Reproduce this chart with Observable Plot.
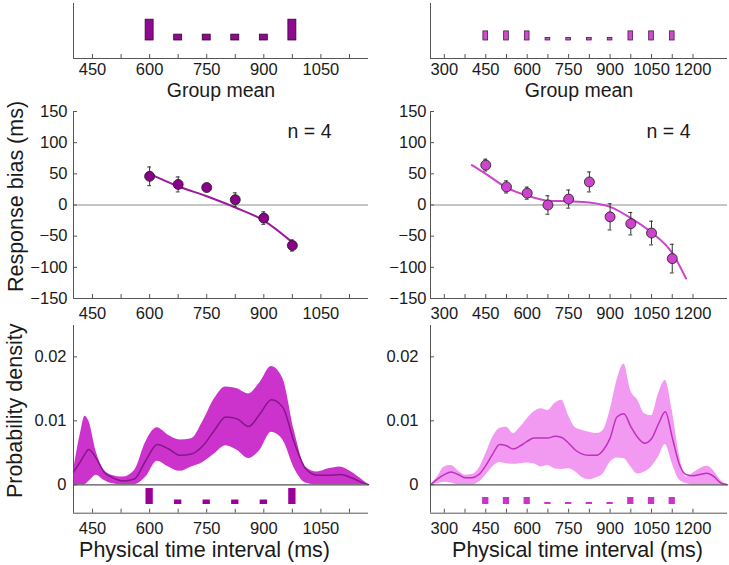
<!DOCTYPE html>
<html><head><meta charset="utf-8">
<script src="https://cdn.jsdelivr.net/npm/d3@7"></script>
<script src="https://cdn.jsdelivr.net/npm/@observablehq/plot@0.6"></script>
<style>body{margin:0;background:#fff}#chart{position:relative;width:729px;height:565px;background:#fff}</style>
</head><body><div id="chart"></div>
<script>
// ---------- data ----------
const leftIntervals = [600, 675, 750, 825, 900, 975];
const leftProb = [0.32, 0.09, 0.09, 0.09, 0.09, 0.32];
const rightIntervals = [450, 525, 600, 675, 750, 825, 900, 975, 1050, 1125];
const rightProb = [0.14, 0.14, 0.14, 0.04, 0.04, 0.04, 0.04, 0.14, 0.14, 0.14];

const leftBias = [46, 33, 28, 8.5, -21, -65];
const leftErr = [15, 12, 2, 11, 10, 9];
const leftFitX = [600, 675, 750, 825, 900, 975];
const leftFitY = [50, 30, 14, -4, -25, -60];

const rightBias = [64, 29, 19, 0, 9.5, 37, -19, -30, -45, -86];
const rightErr = [9.5, 9.7, 9.7, 14.8, 14.5, 16, 21, 18, 19, 23];
const rightFitX = [400, 450, 525, 600, 675, 750, 825, 900, 975, 1050, 1125, 1175];
const rightFitY = [64, 50, 28, 15, 7, 6, 4, -3, -21, -44, -77, -118];

const leftDensX    = [400, 420, 430, 440, 460, 480, 500, 530, 560, 590, 620, 650, 680, 710, 740, 770, 800, 830, 860, 890, 920, 950, 980, 1010, 1040, 1070, 1100, 1130, 1160, 1175];
const leftDensMean = [0.0020, 0.0038, 0.0048, 0.0055, 0.0041, 0.0020, 0.0012, 0.0006, 0.0009, 0.0038, 0.0063, 0.0056, 0.0046, 0.0048, 0.0061, 0.0085, 0.0106, 0.0103, 0.0091, 0.0111, 0.0133, 0.0121, 0.0066, 0.0025, 0.0015, 0.0015, 0.0016, 0.0011, 0.0003, 0];
const leftDensLo   = [0, 0, 0, 0.0005, 0.0015, 0.0007, 0.0002, 0, 0, 0.0012, 0.0037, 0.0028, 0.0021, 0.0028, 0.0035, 0.0048, 0.0061, 0.0054, 0.0041, 0.0054, 0.0082, 0.0070, 0.0026, 0.0003, 0, 0, 0, 0, 0, 0];
const leftDensHi   = [0.0022, 0.0085, 0.0107, 0.0100, 0.0051, 0.0023, 0.0015, 0.0012, 0.0022, 0.0067, 0.0089, 0.0077, 0.0070, 0.0072, 0.0099, 0.0134, 0.0153, 0.0150, 0.0142, 0.0160, 0.0185, 0.0166, 0.0085, 0.0028, 0.0020, 0.0025, 0.0028, 0.0020, 0.0007, 0];

const rightDensX    = [250, 275, 300, 325, 350, 375, 400, 425, 450, 475, 500, 525, 550, 575, 600, 625, 650, 675, 700, 725, 750, 775, 800, 825, 850, 875, 900, 925, 950, 975, 1000, 1025, 1050, 1075, 1100, 1125, 1150, 1175, 1200, 1225, 1250, 1275, 1300, 1325];
const rightDensMean = [0, 0.0009, 0.0016, 0.0020, 0.0016, 0.0011, 0.0011, 0.0016, 0.0030, 0.0048, 0.0063, 0.0061, 0.0056, 0.0061, 0.0068, 0.0073, 0.0073, 0.0073, 0.0076, 0.0074, 0.0065, 0.0054, 0.0048, 0.0046, 0.0046, 0.0054, 0.0073, 0.0106, 0.0111, 0.0091, 0.0074, 0.0065, 0.0072, 0.0095, 0.0114, 0.0074, 0.0033, 0.0016, 0.0014, 0.0016, 0.0018, 0.0013, 0.0003, 0];
const rightDensLo   = [0, 0.0002, 0.0004, 0.0003, 0, 0, 0, 0.0004, 0.0015, 0.0028, 0.0035, 0.0033, 0.0032, 0.0033, 0.0034, 0.0033, 0.0028, 0.0030, 0.0025, 0.0024, 0.0025, 0.0020, 0.0011, 0.0008, 0.0011, 0.0017, 0.0035, 0.0042, 0.0041, 0.0028, 0.0017, 0.0020, 0.0028, 0.0043, 0.0063, 0.0033, 0.0008, 0.0002, 0, 0, 0, 0, 0, 0];
const rightDensHi   = [0, 0.0012, 0.0028, 0.0030, 0.0022, 0.0015, 0.0016, 0.0025, 0.0048, 0.0074, 0.0088, 0.0090, 0.0080, 0.0090, 0.0103, 0.0114, 0.0119, 0.0116, 0.0127, 0.0132, 0.0108, 0.0089, 0.0085, 0.0082, 0.0080, 0.0085, 0.0116, 0.0163, 0.0189, 0.0147, 0.0132, 0.0111, 0.0108, 0.0142, 0.0163, 0.0116, 0.0048, 0.0012, 0.0018, 0.0025, 0.0029, 0.0022, 0.0007, 0];

const leftXTicks = [450, 525, 600, 675, 750, 825, 900, 975, 1050, 1125];
const leftXLabels = [450, 600, 750, 900, 1050];
const rightXTicks = [300, 375, 450, 525, 600, 675, 750, 825, 900, 975, 1050, 1125, 1200];
const rightXLabels = [300, 450, 600, 750, 900, 1050, 1200];
const biasTicks = [-150, -100, -50, 0, 50, 100, 150];
const densTicks = [0, 0.01, 0.02];

const nLabel = "n = 4";
const topTitle = "Group mean";
const biasTitle = "Response bias (ms)";
const densTitle = "Probability density";
const xTitle = "Physical time interval (ms)";

// ---------- layout ----------
const root = document.getElementById("chart");
const FONT = "'Liberation Sans', Arial, Helvetica, sans-serif";
const AX = "#555";
const TXT = "#1a1a1a";
const st = () => ({fontFamily: FONT, fontSize: "16.5px", color: TXT, background: "transparent", overflow: "visible"});
function put(svg, left, top) {
  svg.style.position = "absolute"; svg.style.left = left + "px"; svg.style.top = top + "px";
  root.appendChild(svg);
}
const cols = [
  {left: 0, width: 372, ml: 73, mr: 4, domain: [400, 1175], ticks: leftXTicks, labels: leftXLabels,
   xs: leftIntervals, ps: leftProb, bias: leftBias, err: leftErr, fitX: leftFitX, fitY: leftFitY,
   dX: leftDensX, dM: leftDensMean, dL: leftDensLo, dH: leftDensHi,
   barFill: "#8e0a8e", barStroke: "#3a003a", topHalf: 10.5, botHalf: 9.6, botFill: "#990099",
   dotFill: "#8b008b", fitStroke: "#9a1a9a", band: "#cc33cc", meanStroke: "#86168a",
   capHalf: 5, yPad: 6, dPad: 7, xTitleDx: -16.5, showY: true},
  {left: 372, width: 357, ml: 58, mr: 2, domain: [250, 1325], ticks: rightXTicks, labels: rightXLabels,
   xs: rightIntervals, ps: rightProb, bias: rightBias, err: rightErr, fitX: rightFitX, fitY: rightFitY,
   dX: rightDensX, dM: rightDensMean, dL: rightDensLo, dH: rightDensHi,
   barFill: "#cc4ccc", barStroke: "#4a1a4a", topHalf: 8.5, botHalf: 11.4, botFill: "#cc33cc",
   dotFill: "#cc44cc", fitStroke: "#cc44cc", band: "#f29af2", meanStroke: "#c030c0",
   capHalf: 7, yPad: 4, dPad: 12, xTitleDx: -1.5, showY: false}
];

const topY = [-0.277, 0.569];
const biasY = [-150, 150];
const densY = [-0.00444, 0.0249];
const densBarBase = -0.00308;
const densBarScale = 0.0078;

for (const c of cols) {
  const fw = c.width - c.ml - c.mr;
  const xFmt = d => String(d);
  const bars = c.xs.map((x, i) => ({x, p: c.ps[i]}));

  // top row: stimulus distribution
  {
    const mT = 3, mB = 42, h = 100;
    put(Plot.plot({
      width: c.width, height: h, marginLeft: c.ml, marginRight: c.mr, marginTop: mT, marginBottom: mB,
      style: st(), x: {domain: c.domain}, y: {domain: topY, axis: null},
      marks: [
        Plot.rect(bars, {x1: d => d.x - c.topHalf, x2: d => d.x + c.topHalf, y1: 0, y2: "p", fill: c.barFill, stroke: c.barStroke, strokeWidth: 0.8}),
        Plot.ruleX([c.domain[0]], {stroke: AX}),
        Plot.ruleY([topY[0]], {stroke: AX}),
        Plot.ruleX(c.ticks, {x: d => d, insetTop: (h - mT - mB) - 4, stroke: AX}),
        Plot.axisX(c.labels, {tickSize: 0, tickPadding: 5, tickFormat: xFmt, label: null, fill: TXT}),
        Plot.text([topTitle], {text: d => d, frameAnchor: "bottom", lineAnchor: "middle", dy: 32, fontSize: 19.5, fill: TXT})
      ]
    }), c.left, 0);
  }

  // middle row: response bias
  {
    const mT = 11, mB = 24, h = 222;
    const pts = c.xs.map((x, i) => ({x, y: c.bias[i], lo: c.bias[i] - c.err[i], hi: c.bias[i] + c.err[i]}));
    const fit = c.fitX.map((x, i) => ({x, y: c.fitY[i]}));
    const marks = [
      Plot.ruleY([0], {stroke: "#b3b3b3", strokeWidth: 1.3}),
      Plot.line(fit, {x: "x", y: "y", stroke: c.fitStroke, strokeWidth: 2, curve: "monotone-x"}),
      Plot.ruleX(pts, {x: "x", y1: "lo", y2: "hi", stroke: "#333", strokeWidth: 1}),
      Plot.ruleY(pts, {y: "lo", x1: d => d.x - c.capHalf, x2: d => d.x + c.capHalf, stroke: "#333", strokeWidth: 1}),
      Plot.ruleY(pts, {y: "hi", x1: d => d.x - c.capHalf, x2: d => d.x + c.capHalf, stroke: "#333", strokeWidth: 1}),
      Plot.dot(pts, {x: "x", y: "y", r: 5, fill: c.dotFill, stroke: "#1a1a1a", strokeWidth: 0.8}),
      Plot.ruleX([c.domain[0]], {stroke: AX}),
      Plot.ruleY([biasY[0]], {stroke: AX}),
      Plot.ruleX(c.ticks, {x: d => d, insetTop: (h - mT - mB) - 4, stroke: AX}),
      Plot.ruleY(biasTicks, {y: d => d, insetRight: fw - 4, stroke: AX}),
      Plot.axisX(c.labels, {tickSize: 0, tickPadding: 9, tickFormat: xFmt, label: null, fill: TXT}),
      Plot.axisY(biasTicks, {tickSize: 0, tickPadding: c.yPad, tickFormat: d => d < 0 ? "\u2212" + (-d) : String(d), label: null, fill: TXT}),
      Plot.text([nLabel], {text: d => d, frameAnchor: "top-right", textAnchor: "end", lineAnchor: "middle", dx: -37, dy: 20, fontSize: 19.5, fill: TXT})
    ];
    if (c.showY) marks.push(Plot.text([biasTitle], {text: d => d, frameAnchor: "left", textAnchor: "middle", lineAnchor: "middle", rotate: -90, dx: -57.5, dy: -8.5, fontSize: 21.5, fill: TXT}));
    put(Plot.plot({
      width: c.width, height: h, marginLeft: c.ml, marginRight: c.mr, marginTop: mT, marginBottom: mB,
      style: st(), x: {domain: c.domain}, y: {domain: biasY}, marks
    }), c.left, 100);
  }

  // bottom row: probability density
  {
    const mT = 3, mB = 52.3, h = 243;
    const dens = c.dX.map((x, i) => ({x, m: c.dM[i], lo: c.dL[i], hi: c.dH[i]}));
    const marks = [
      Plot.areaY(dens, {x: "x", y1: "lo", y2: "hi", fill: c.band, curve: "monotone-x"}),
      Plot.line(dens, {x: "x", y: "m", stroke: c.meanStroke, strokeWidth: 1.5, curve: "monotone-x"}),
      Plot.ruleY([0], {stroke: "#555", strokeWidth: 1.2}),
      Plot.rect(bars, {x1: d => d.x - c.botHalf, x2: d => d.x + c.botHalf, y1: densBarBase, y2: d => densBarBase + d.p * densBarScale, fill: c.botFill}),
      Plot.ruleX([c.domain[0]], {stroke: AX}),
      Plot.ruleY([densY[0]], {stroke: AX}),
      Plot.ruleX(c.ticks, {x: d => d, insetTop: (h - mT - mB) - 4, stroke: AX}),
      Plot.ruleY(densTicks, {y: d => d, insetRight: fw - 4, stroke: AX}),
      Plot.axisX(c.labels, {tickSize: 0, tickPadding: 9, tickFormat: xFmt, label: null, fill: TXT}),
      Plot.axisY(densTicks, {tickSize: 0, tickPadding: c.dPad, tickFormat: d => d === 0 ? "0" : d.toFixed(2), label: null, fill: TXT}),
      Plot.text([xTitle], {text: d => d, frameAnchor: "bottom", lineAnchor: "middle", dx: c.xTitleDx, dy: 37.3, fontSize: 21.5, fill: TXT})
    ];
    if (c.showY) marks.push(Plot.text([densTitle], {text: d => d, frameAnchor: "left", textAnchor: "middle", lineAnchor: "middle", rotate: -90, dx: -58, dy: -8.5, fontSize: 21.5, fill: TXT}));
    put(Plot.plot({
      width: c.width, height: h, marginLeft: c.ml, marginRight: c.mr, marginTop: mT, marginBottom: mB,
      style: st(), x: {domain: c.domain}, y: {domain: densY}, marks
    }), c.left, 322);
  }
}
</script>
</body></html>
